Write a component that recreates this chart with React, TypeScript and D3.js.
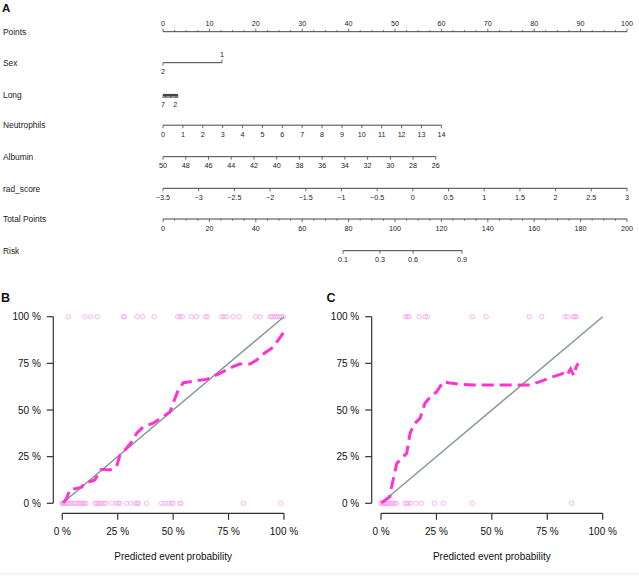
import React, { useEffect } from "react";
import * as d3 from "d3";

const FONT = "'Liberation Sans', Arial, Helvetica, sans-serif";

// ---------------- Nomogram data ----------------
const varNames = ["Points", "Sex", "Long", "Neutrophils", "Albumin", "rad_score", "Total Points", "Risk"];
const pointsMajor = [0, 10, 20, 30, 40, 50, 60, 70, 80, 90, 100];
const sexLevels = ["2", "1"];
const sexPoints = [0, 12.7];
const longTicks = [7, 6.5, 6, 5.5, 5, 4.5, 4, 3.5, 3, 2.5, 2, 1.5, 1];
const longLabels = [7, 2];
const longPointsRange = [0, 3.2];
const neutroTicks = [0, 1, 2, 3, 4, 5, 6, 7, 8, 9, 10, 11, 12, 13, 14];
const neutroPointsRange = [0, 60];
const albuminTicks = [50, 48, 46, 44, 42, 40, 38, 36, 34, 32, 30, 28, 26];
const albuminPointsRange = [0, 58.8];
const radTicks = [-3.5, -3, -2.5, -2, -1.5, -1, -0.5, 0, 0.5, 1, 1.5, 2, 2.5, 3];
const radPointsRange = [0, 100];
const totalMajor = [0, 20, 40, 60, 80, 100, 120, 140, 160, 180, 200];
const riskLabels = ["0.1", "0.3", "0.6", "0.9"];
const riskTotalPoints = [77.6, 93.5, 107.8, 128.9];

// ---------------- Calibration data ----------------
const calBx = [0.005, 0.02, 0.035, 0.065, 0.087, 0.1, 0.125, 0.147, 0.162, 0.177, 0.215, 0.245, 0.26, 0.29, 0.32, 0.335, 0.365, 0.41, 0.455, 0.486, 0.5, 0.523, 0.546, 0.606, 0.65, 0.71, 0.74, 0.77, 0.8, 0.846, 0.877, 0.907, 0.95, 0.974, 0.997];
const calBy = [0.004, 0.027, 0.075, 0.08, 0.086, 0.11, 0.116, 0.125, 0.16, 0.182, 0.178, 0.196, 0.259, 0.295, 0.34, 0.375, 0.41, 0.43, 0.464, 0.49, 0.536, 0.607, 0.646, 0.657, 0.664, 0.696, 0.714, 0.732, 0.746, 0.746, 0.768, 0.8, 0.836, 0.875, 0.914];
const eventsB1 = [0.027, 0.102, 0.128, 0.158, 0.275, 0.28, 0.338, 0.362, 0.414, 0.52, 0.531, 0.541, 0.583, 0.606, 0.647, 0.654, 0.719, 0.729, 0.741, 0.771, 0.798, 0.872, 0.892, 0.937, 0.944, 0.955, 0.962, 0.97, 0.979, 0.989, 0.997];
const eventsB0 = [0.0, 0.002, 0.005, 0.009, 0.014, 0.02, 0.027, 0.035, 0.042, 0.053, 0.062, 0.072, 0.08, 0.087, 0.095, 0.102, 0.107, 0.147, 0.155, 0.162, 0.17, 0.177, 0.188, 0.197, 0.223, 0.245, 0.253, 0.26, 0.29, 0.308, 0.332, 0.338, 0.343, 0.38, 0.448, 0.463, 0.478, 0.493, 0.5, 0.531, 0.535, 0.817, 0.986];

const calCx = [0.003, 0.04, 0.048, 0.071, 0.093, 0.116, 0.131, 0.153, 0.176, 0.198, 0.221, 0.251, 0.281, 0.304, 0.356, 0.417, 0.567, 0.672, 0.717, 0.777, 0.823, 0.838, 0.855, 0.87, 0.88, 0.89];
const calCy = [0.003, 0.036, 0.089, 0.214, 0.241, 0.268, 0.375, 0.429, 0.455, 0.536, 0.568, 0.598, 0.652, 0.646, 0.638, 0.634, 0.634, 0.634, 0.652, 0.679, 0.696, 0.685, 0.72, 0.685, 0.73, 0.75];
const eventsC1 = [0.111, 0.119, 0.126, 0.173, 0.2, 0.209, 0.412, 0.474, 0.669, 0.725, 0.83, 0.841, 0.868, 0.875, 0.88];
const eventsC0 = [0.0, 0.002, 0.005, 0.009, 0.014, 0.018, 0.023, 0.027, 0.033, 0.041, 0.048, 0.056, 0.063, 0.071, 0.108, 0.116, 0.123, 0.134, 0.158, 0.183, 0.241, 0.281, 0.412, 0.86];

const pctTicks = [0, 0.25, 0.5, 0.75, 1];
const pctFmt = (v: number) => `${Math.round(v * 100)} %`;

// ---------------- Styles ----------------
const AXIS_COL = "#333";
const NOMO_COL = "#444";
const TICK_FS = 7.2;
const NAME_FS = 8.4;
const MAGENTA = "#ff33d2";
const DIAG = "#839b93";
const CIRCLE = "#f6a2ea";

type Tick = { x: number; label?: string; up?: boolean; minor?: boolean };

function NomoRow({ y, x0, x1, ticks, width = 1 }: { y: number; x0: number; x1: number; ticks: Tick[]; width?: number }) {
  return (
    <g>
      <line x1={x0} x2={x1} y1={y} y2={y} stroke={NOMO_COL} strokeWidth={width} />
      {ticks.map((t, i) => {
        const len = t.minor ? 1.6 : 3;
        const y2 = t.up ? y - len : y + len;
        return (
          <g key={i}>
            <line x1={t.x} x2={t.x} y1={y} y2={y2} stroke={NOMO_COL} strokeWidth={0.8} />
            {t.label !== undefined && (
              <text
                x={t.x}
                y={t.up ? y - 5.5 : y + 11.5}
                textAnchor="middle"
                fontSize={TICK_FS}
                fontFamily={FONT}
                fill="#222"
              >
                {t.label}
              </text>
            )}
          </g>
        );
      })}
    </g>
  );
}

const minus = (v: number) => (v < 0 ? `\u2212${Math.abs(v)}` : `${v}`);

function Nomogram() {
  const px = d3.scaleLinear().domain([0, 100]).range([163, 627]);
  const tx = d3.scaleLinear().domain([0, 200]).range([163, 627]);
  const rowY = [31.7, 62.7, 95, 125.2, 156.7, 188.3, 219, 250.7];

  const sexX = sexPoints.map((p) => px(p));
  const longS = d3.scaleLinear().domain([7, 1]).range(longPointsRange);
  const neuS = d3.scaleLinear().domain([0, 14]).range(neutroPointsRange);
  const albS = d3.scaleLinear().domain([50, 26]).range(albuminPointsRange);
  const radS = d3.scaleLinear().domain([-3.5, 3]).range(radPointsRange);

  const pointsTicks: Tick[] = [
    ...d3.range(0, 100.01, 2.5).filter((v) => v % 10 !== 0).map((v) => ({ x: px(v), up: true, minor: true })),
    ...pointsMajor.map((v) => ({ x: px(v), label: `${v}`, up: true })),
  ];
  const sexTicks: Tick[] = [
    { x: sexX[0], label: sexLevels[0], up: false },
    { x: sexX[1], label: sexLevels[1], up: true },
  ];
  const longT: Tick[] = longTicks.map((v) => ({
    x: px(longS(v)),
    label: longLabels.includes(v) ? `${v}` : undefined,
  }));
  const neuT: Tick[] = neutroTicks.map((v) => ({ x: px(neuS(v)), label: `${v}` }));
  const albT: Tick[] = albuminTicks.map((v) => ({ x: px(albS(v)), label: `${v}` }));
  const radT: Tick[] = radTicks.map((v) => ({ x: px(radS(v)), label: minus(v) }));
  const totT: Tick[] = [
    ...d3.range(0, 200.01, 5).filter((v) => v % 20 !== 0).map((v) => ({ x: tx(v), minor: true })),
    ...totalMajor.map((v) => ({ x: tx(v), label: `${v}` })),
  ];
  const riskT: Tick[] = riskTotalPoints.map((v, i) => ({ x: tx(v), label: riskLabels[i] }));

  const rows: { ticks: Tick[]; x0: number; x1: number; w?: number }[] = [
    { ticks: pointsTicks, x0: px(0), x1: px(100) },
    { ticks: sexTicks, x0: sexX[0], x1: sexX[1] },
    { ticks: longT, x0: px(longS(7)), x1: px(longS(1)), w: 2.2 },
    { ticks: neuT, x0: px(neuS(0)), x1: px(neuS(14)) },
    { ticks: albT, x0: px(albS(50)), x1: px(albS(26)) },
    { ticks: radT, x0: px(radS(-3.5)), x1: px(radS(3)) },
    { ticks: totT, x0: tx(0), x1: tx(200) },
    { ticks: riskT, x0: tx(riskTotalPoints[0]), x1: tx(riskTotalPoints[riskTotalPoints.length - 1]) },
  ];

  return (
    <g>
      <text x={2} y={11.7} fontSize={11.5} fontWeight="bold" fontFamily={FONT} fill="#111">
        A
      </text>
      {rows.map((r, i) => (
        <g key={i}>
          <text x={3} y={rowY[i] + 3.2} fontSize={NAME_FS} fontFamily={FONT} fill="#222">
            {varNames[i]}
          </text>
          <NomoRow y={rowY[i]} x0={r.x0} x1={r.x1} ticks={r.ticks} width={r.w} />
        </g>
      ))}
    </g>
  );
}

function CalPanel({
  letter,
  letterX,
  xRange,
  yAxisX,
  cx,
  cy,
  ev1,
  ev0,
}: {
  letter: string;
  letterX: number;
  xRange: [number, number];
  yAxisX: number;
  cx: number[];
  cy: number[];
  ev1: number[];
  ev0: number[];
}) {
  const x = d3.scaleLinear().domain([0, 1]).range(xRange);
  const y = d3.scaleLinear().domain([0, 1]).range([503.3, 316.7]);
  const xAxisY = 513.3;
  const line = d3
    .line<number>()
    .x((_, i) => x(cx[i]))
    .y((d) => y(d));
  const fs = 10;
  return (
    <g>
      <text x={letterX} y={301.5} fontSize={12.5} fontWeight="bold" fontFamily={FONT} fill="#111">
        {letter}
      </text>
      {/* y axis */}
      <line x1={yAxisX} x2={yAxisX} y1={y(0)} y2={y(1)} stroke={AXIS_COL} strokeWidth={1.2} />
      {pctTicks.map((t) => (
        <g key={`y${t}`}>
          <line x1={yAxisX - 6.5} x2={yAxisX} y1={y(t)} y2={y(t)} stroke={AXIS_COL} strokeWidth={1.2} />
          <text
            x={yAxisX - 12.5}
            y={y(t)}
            dy="0.36em"
            textAnchor="end"
            fontSize={fs}
            fontFamily={FONT}
            fill="#111"
          >
            {pctFmt(t)}
          </text>
        </g>
      ))}
      {/* x axis */}
      <line x1={x(0)} x2={x(1)} y1={xAxisY} y2={xAxisY} stroke={AXIS_COL} strokeWidth={1.2} />
      {pctTicks.map((t) => (
        <g key={`x${t}`}>
          <line x1={x(t)} x2={x(t)} y1={xAxisY} y2={xAxisY + 6.5} stroke={AXIS_COL} strokeWidth={1.2} />
          <text x={x(t)} y={534.8} textAnchor="middle" fontSize={fs} fontFamily={FONT} fill="#111">
            {pctFmt(t)}
          </text>
        </g>
      ))}
      <text
        x={(x(0) + x(1)) / 2}
        y={559.5}
        textAnchor="middle"
        fontSize={fs}
        fontFamily={FONT}
        fill="#111"
      >
        Predicted event probability
      </text>
      {/* events */}
      {ev1.map((v, i) => (
        <circle key={`e1${i}`} cx={x(v)} cy={y(1)} r={2.2} fill="none" stroke={CIRCLE} strokeWidth={0.8} />
      ))}
      {ev0.map((v, i) => (
        <circle key={`e0${i}`} cx={x(v)} cy={y(0)} r={2.2} fill="none" stroke={CIRCLE} strokeWidth={0.8} />
      ))}
      {/* ideal line */}
      <line x1={x(0)} y1={y(0)} x2={x(1)} y2={y(1)} stroke={DIAG} strokeWidth={1.5} />
      {/* calibration curve */}
      <path d={line(cy) || ""} fill="none" stroke={MAGENTA} strokeWidth={3} strokeDasharray="12 6" />
    </g>
  );
}

export default function App() {
  useEffect(() => {
    document.body.style.margin = "0";
  }, []);
  return (
    <svg
      width={639}
      height={577}
      viewBox="0 0 639 577"
      style={{ position: "absolute", left: 0, top: 0, background: "#fff" }}
    >
      <rect x={0} y={0} width={639} height={577} fill="#fff" />
      <Nomogram />
      <CalPanel
        letter="B"
        letterX={1}
        xRange={[62.3, 284]}
        yAxisX={53.3}
        cx={calBx}
        cy={calBy}
        ev1={eventsB1}
        ev0={eventsB0}
      />
      <CalPanel
        letter="C"
        letterX={326.5}
        xRange={[381, 602.7]}
        yAxisX={371.7}
        cx={calCx}
        cy={calCy}
        ev1={eventsC1}
        ev0={eventsC0}
      />
      <line x1={0} x2={639} y1={574} y2={574} stroke="#ececec" strokeWidth={1} />
    </svg>
  );
}
